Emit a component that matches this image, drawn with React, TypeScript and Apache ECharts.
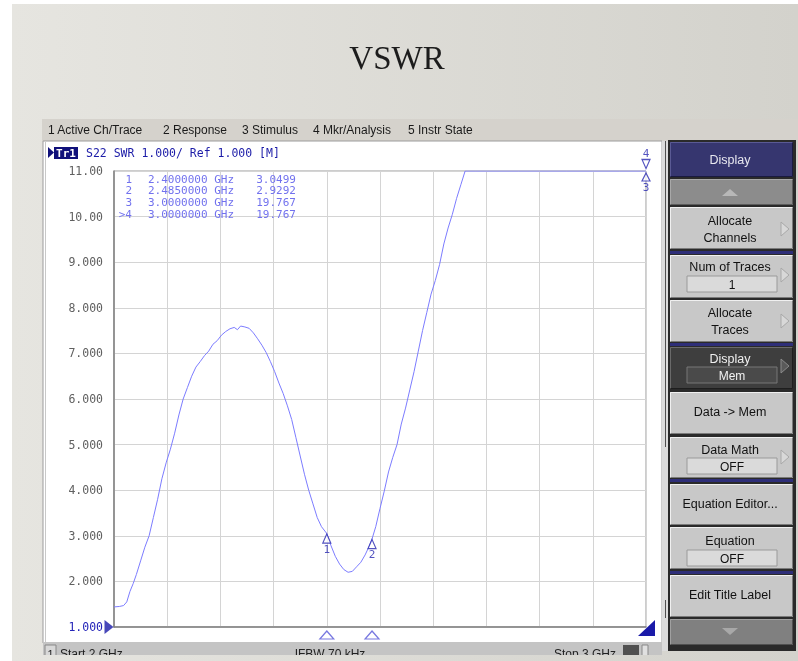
import React, { useEffect, useRef } from "react";
import * as echarts from "echarts";

// ---- data ----
const freqGHz = [
  2.0, 2.01, 2.018, 2.024, 2.03, 2.036, 2.042, 2.05, 2.058, 2.066, 2.074, 2.082, 2.09, 2.098, 2.106, 2.114,
  2.122, 2.13, 2.138, 2.146, 2.154, 2.162, 2.17, 2.178, 2.186, 2.194, 2.202, 2.21, 2.218, 2.226, 2.232,
  2.238, 2.246, 2.254, 2.262, 2.27, 2.278, 2.286, 2.294, 2.302, 2.31, 2.318, 2.326, 2.334, 2.342, 2.35,
  2.358, 2.366, 2.374, 2.382, 2.39, 2.4, 2.408, 2.416, 2.424, 2.432, 2.44, 2.448, 2.456, 2.464, 2.472,
  2.48, 2.485, 2.492, 2.5, 2.508, 2.516, 2.524, 2.532, 2.54, 2.548, 2.556, 2.564, 2.572, 2.58, 2.588,
  2.596, 2.604, 2.612, 2.62, 2.628, 2.636, 2.644, 2.652, 2.66, 2.68, 2.72, 2.76, 2.8, 2.85, 2.9, 2.95, 3.0,
];
const swr = [
  1.44, 1.45, 1.47, 1.55, 1.78, 1.95, 2.15, 2.45, 2.75, 3.0, 3.4, 3.8, 4.25, 4.6, 4.9, 5.25,
  5.65, 6.0, 6.25, 6.5, 6.7, 6.82, 6.95, 7.05, 7.2, 7.28, 7.4, 7.48, 7.54, 7.57, 7.52,
  7.6, 7.58, 7.55, 7.45, 7.32, 7.18, 7.02, 6.82, 6.6, 6.35, 6.12, 5.85, 5.55, 5.15, 4.75,
  4.35, 4.0, 3.7, 3.4, 3.2, 3.05, 2.78, 2.55, 2.38, 2.26, 2.2, 2.22, 2.32, 2.42, 2.58,
  2.78, 2.93, 3.2, 3.6, 3.98, 4.4, 4.72, 5.0, 5.45, 5.8, 6.2, 6.6, 7.05, 7.5, 7.9,
  8.3, 8.6, 8.95, 9.4, 9.75, 10.05, 10.4, 10.7, 11.0, 12.0, 13.5, 15.0, 16.2, 17.5, 18.5, 19.2, 19.767,
];
const markerIds = ["1", "2", "3", ">4"];
const markerFreq = [2.4, 2.485, 3.0, 3.0];
const markerSwr = [3.0499, 2.9292, 19.767, 19.767];
const startGHz = 2;
const stopGHz = 3;
const yMin = 1;
const yMax = 11;
const yDiv = 1;
const menuItems = ["1 Active Ch/Trace", "2 Response", "3 Stimulus", "4 Mkr/Analysis", "5 Instr State"];
const traceHeader = "S22 SWR 1.000/ Ref 1.000 [M]";
const statusTexts = ["Start 2 GHz", "IFBW 70 kHz", "Stop 3 GHz"];

// ---- layout ----
const menuX = [48, 163, 242, 313, 408];
const SANS = "'Liberation Sans', Arial, sans-serif";
const MONO = "'DejaVu Sans Mono', 'Liberation Mono', monospace";

function txt(x: number, y: number, text: string, font: string, fill: string, align = "left", z = 1, lineHeight?: number) {
  const style: any = { text, font, fill, textAlign: align, textVerticalAlign: "middle" };
  if (lineHeight) style.lineHeight = lineHeight;
  return { type: "text", x, y, z, style };
}
function bevel(x: number, y: number, w: number, h: number, fill: string, light: string, dark: string) {
  return [
    { type: "rect", z: -2, shape: { x, y, width: w, height: h }, style: { fill } },
    { type: "polyline", z: -1, shape: { points: [[x + 0.5, y + h - 0.5], [x + 0.5, y + 0.5], [x + w - 0.5, y + 0.5]] }, style: { stroke: light, lineWidth: 1, fill: null } },
    { type: "polyline", z: -1, shape: { points: [[x + 0.5, y + h - 0.5], [x + w - 0.5, y + h - 0.5], [x + w - 0.5, y + 0.5]] }, style: { stroke: dark, lineWidth: 1, fill: null } },
  ];
}
function arrowRight(y: number, dark = false) {
  return {
    type: "polygon", z: 0, shape: { points: [[781, y - 7], [789, y], [781, y + 7]] },
    style: { fill: dark ? "#5a5a5a" : "#d8d8d8", stroke: dark ? "#8a8a8a" : "#a8a8a8", lineWidth: 1 },
  };
}
function valueBox(y: number, text: string, dark = false) {
  return [
    { type: "rect", z: -1, shape: { x: 687, y, width: 90, height: 16 }, style: { fill: dark ? "#4a4a4a" : "#dadada", stroke: dark ? "#777" : "#9a9a9a", lineWidth: 1 } },
    txt(732, y + 8.5, text, `12px ${SANS}`, dark ? "#f2f2f2" : "#111", "center"),
  ];
}

function buildGraphics() {
  const g: any[] = [];
  const slideGrad = new echarts.graphic.LinearGradient(0, 0, 1, 0, [
    { offset: 0, color: "#e6e5e0" },
    { offset: 1, color: "#d3d2cc" },
  ]);
  g.push({ type: "rect", z: -10, shape: { x: 0, y: 0, width: 798, height: 661 }, style: { fill: "#ffffff" } });
  g.push({ type: "rect", z: -9, shape: { x: 12, y: 4, width: 786, height: 657 }, style: { fill: slideGrad } });
  g.push(txt(397, 58, "VSWR", `33px 'Liberation Serif', serif`, "#1c1c1c", "center", -8));

  // menu bar
  g.push({ type: "rect", z: -8, shape: { x: 42, y: 119, width: 756, height: 22 }, style: { fill: "#d5d2cc" } });
  menuItems.forEach((m, i) => g.push(txt(menuX[i], 130, m, `12px ${SANS}`, "#1a1a1a", "left", -7)));

  // chart window
  g.push({ type: "rect", z: -8, shape: { x: 43, y: 141, width: 619, height: 502 }, style: { fill: "#ffffff", stroke: "#9c9c9c", lineWidth: 1 } });
  g.push({ type: "line", z: -7, shape: { x1: 45.5, y1: 142, x2: 45.5, y2: 642 }, style: { stroke: "#c8c8c8", lineWidth: 1 } });

  // header
  g.push({ type: "polygon", z: 1, shape: { points: [[48, 147], [54, 152.5], [48, 158]] }, style: { fill: "#10107a" } });
  g.push({ type: "rect", z: 1, shape: { x: 54, y: 147, width: 24, height: 12 }, style: { fill: "#10107a" } });
  g.push(txt(66, 153, "Tr1", `bold 11px ${MONO}`, "#ffffff", "center", 2));
  g.push(txt(86, 153, traceHeader, `11.5px ${MONO}`, "#1c1ca8", "left", 2));

  // marker table
  markerIds.forEach((id, i) => {
    const y = 179 + i * 11.7;
    const f = `11px ${MONO}`;
    g.push(txt(132, y, id, f, "#7272ee", "right", 5, 10));
    g.push(txt(148, y, `${markerFreq[i].toFixed(7)} GHz`, f, "#7272ee", "left", 5, 10));
    g.push(txt(296, y, markerSwr[i].toPrecision(5), f, "#7272ee", "right", 5, 10));
  });

  // bottom-right corner marker
  g.push({ type: "polygon", z: 5, shape: { points: [[655, 620], [655, 636], [638, 636]] }, style: { fill: "#1a1aa8" } });

  // status bar
  g.push({ type: "rect", z: -6, shape: { x: 43, y: 642, width: 619, height: 19 }, style: { fill: "#c4c4c4" } });
  g.push({ type: "rect", z: -5, shape: { x: 45, y: 645, width: 11, height: 14 }, style: { fill: "#d8d8d8", stroke: "#888", lineWidth: 1 } });
  g.push(txt(50.5, 654, "1", `11px ${SANS}`, "#222", "center", -4));
  g.push(txt(60, 654, statusTexts[0], `12px ${SANS}`, "#222", "left", -4));
  g.push(txt(330, 654, statusTexts[1], `12px ${SANS}`, "#222", "center", -4));
  g.push(txt(616, 654, statusTexts[2], `12px ${SANS}`, "#222", "right", -4));
  g.push({ type: "rect", z: -4, shape: { x: 623, y: 645, width: 16, height: 12 }, style: { fill: "#505050" } });
  g.push({ type: "rect", z: -4, shape: { x: 642, y: 645, width: 6, height: 12 }, style: { fill: "#e0e0e0", stroke: "#888" } });

  // scrollbar strip + softkey panel
  g.push({ type: "rect", z: -6, shape: { x: 662, y: 141, width: 7, height: 510 }, style: { fill: "#dcdcdc" } });
  g.push({ type: "line", z: -5, shape: { x1: 665.5, y1: 141, x2: 665.5, y2: 447 }, style: { stroke: "#505050", lineWidth: 1 } });
  g.push({ type: "line", z: -5, shape: { x1: 665.5, y1: 600, x2: 665.5, y2: 618 }, style: { stroke: "#505050", lineWidth: 1 } });
  g.push({ type: "rect", z: -6, shape: { x: 668, y: 140, width: 128, height: 511 }, style: { fill: "#2a2a2a" } });

  const bx = 670, bw = 123;
  // Display (title)
  g.push(...bevel(bx, 142, bw, 35, "#36366f", "#5a5a94", "#1a1a40"));
  g.push(txt(730, 160, "Display", `12.5px ${SANS}`, "#e8e8f0", "center"));
  // up arrow
  g.push(...bevel(bx, 179, bw, 26, "#8c8c8c", "#a8a8a8", "#5c5c5c"));
  g.push({ type: "polygon", z: 0, shape: { points: [[722, 196], [738, 196], [730, 189]] }, style: { fill: "#b8b8b8" } });
  // Allocate Channels
  g.push(...bevel(bx, 207, bw, 42, "#c8c8c8", "#f0f0f0", "#7a7a7a"));
  g.push(txt(730, 221, "Allocate", `12.5px ${SANS}`, "#111", "center"));
  g.push(txt(730, 238, "Channels", `12.5px ${SANS}`, "#111", "center"));
  g.push(arrowRight(229));
  g.push({ type: "rect", z: -1, shape: { x: bx, y: 251, width: bw, height: 3 }, style: { fill: "#2e2e78" } });
  // Num of Traces
  g.push(...bevel(bx, 255, bw, 43, "#c8c8c8", "#f0f0f0", "#7a7a7a"));
  g.push(txt(730, 267, "Num of Traces", `12.5px ${SANS}`, "#111", "center"));
  g.push(...valueBox(276, "1"));
  g.push(arrowRight(275));
  // Allocate Traces
  g.push(...bevel(bx, 300, bw, 42, "#c8c8c8", "#f0f0f0", "#7a7a7a"));
  g.push(txt(730, 313, "Allocate", `12.5px ${SANS}`, "#111", "center"));
  g.push(txt(730, 330, "Traces", `12.5px ${SANS}`, "#111", "center"));
  g.push(arrowRight(321));
  g.push({ type: "rect", z: -1, shape: { x: bx, y: 343, width: bw, height: 3 }, style: { fill: "#2e2e78" } });
  // Display / Mem (selected)
  g.push(...bevel(bx, 347, bw, 42, "#3e3e3e", "#6a6a6a", "#1e1e1e"));
  g.push(txt(730, 359, "Display", `12.5px ${SANS}`, "#f0f0f0", "center"));
  g.push(...valueBox(367, "Mem", true));
  g.push(arrowRight(366, true));
  // Data -> Mem
  g.push(...bevel(bx, 392, bw, 42, "#c8c8c8", "#f0f0f0", "#7a7a7a"));
  g.push(txt(730, 412, "Data -> Mem", `12.5px ${SANS}`, "#111", "center"));
  // Data Math
  g.push(...bevel(bx, 437, bw, 41, "#c8c8c8", "#f0f0f0", "#7a7a7a"));
  g.push(txt(730, 450, "Data Math", `12.5px ${SANS}`, "#111", "center"));
  g.push(...valueBox(458, "OFF"));
  g.push(arrowRight(457));
  g.push({ type: "rect", z: -1, shape: { x: bx, y: 479, width: bw, height: 3 }, style: { fill: "#2e2e78" } });
  // Equation Editor...
  g.push(...bevel(bx, 484, bw, 41, "#c8c8c8", "#f0f0f0", "#7a7a7a"));
  g.push(txt(730, 504, "Equation Editor...", `12.5px ${SANS}`, "#111", "center"));
  // Equation
  g.push(...bevel(bx, 527, bw, 42, "#c8c8c8", "#f0f0f0", "#7a7a7a"));
  g.push(txt(730, 541, "Equation", `12.5px ${SANS}`, "#111", "center"));
  g.push(...valueBox(550, "OFF"));
  g.push({ type: "rect", z: -1, shape: { x: bx, y: 571, width: bw, height: 3 }, style: { fill: "#2e2e78" } });
  // Edit Title Label
  g.push(...bevel(bx, 575, bw, 42, "#c8c8c8", "#f0f0f0", "#7a7a7a"));
  g.push(txt(730, 595, "Edit Title Label", `12.5px ${SANS}`, "#111", "center"));
  // down arrow
  g.push(...bevel(bx, 619, bw, 26, "#808080", "#a0a0a0", "#505050"));
  g.push({ type: "polygon", z: 0, shape: { points: [[722, 628], [738, 628], [730, 635]] }, style: { fill: "#a8a8a8" } });

  // bottom cover (screenshot cropped)
  g.push({ type: "rect", z: 200, shape: { x: 12, y: 655, width: 786, height: 6 }, style: { fill: slideGrad } });
  return g;
}

export default function App() {
  const ref = useRef<HTMLDivElement>(null);
  useEffect(() => {
    if (!ref.current) return;
    const chart = echarts.init(ref.current, undefined, { renderer: "svg" });
    const trace = freqGHz.map((f, i) => [f, Math.min(swr[i], yMax)]);
    const mk = markerFreq.map((f, i) => [f, Math.min(markerSwr[i], yMax)]);
    chart.setOption({
      animation: false,
      backgroundColor: "transparent",
      graphic: { elements: buildGraphics() },
      grid: {
        left: 114, top: 171, width: 532, height: 456,
        show: true, backgroundColor: "#ffffff", borderColor: "#9a9a9a", borderWidth: 1,
      },
      xAxis: {
        type: "value", min: startGHz, max: stopGHz, interval: 0.1,
        axisLine: { show: true, lineStyle: { color: "#808080", width: 1.5 } },
        axisTick: { show: false }, axisLabel: { show: false },
        splitLine: { show: true, lineStyle: { color: "#d4d4d4", width: 1 } },
      },
      yAxis: {
        type: "value", min: yMin, max: yMax, interval: yDiv,
        axisLine: { show: true, lineStyle: { color: "#808080", width: 1.5 } },
        axisTick: { show: false },
        splitLine: { show: true, lineStyle: { color: "#d4d4d4", width: 1 } },
        axisLabel: {
          margin: 11,
          fontFamily: MONO, fontSize: 11.5, color: "#606060",
          formatter: (v: number) => (v === yMin ? `{ref|${v.toFixed(3)}}` : v >= 10 ? v.toFixed(2) : v.toFixed(3)),
          rich: { ref: { color: "#2424b8", fontFamily: MONO, fontSize: 11.5 } },
        },
      },
      series: [
        {
          type: "line", data: trace, symbol: "none", z: 3,
          lineStyle: { color: "#7c7cff", width: 1 },
        },
        {
          type: "scatter", z: 6, clip: false,
          data: mk.slice(0, 2),
          symbol: "triangle", symbolSize: [8, 9], symbolOffset: [0, 5],
          itemStyle: { color: "rgba(255,255,255,0.9)", borderColor: "#2828b0", borderWidth: 1.2 },
          label: {
            show: true, position: "bottom", distance: 0, color: "#2828b0", fontFamily: MONO, fontSize: 11,
            formatter: (p: any) => markerIds[p.dataIndex],
          },
        },
        {
          type: "scatter", z: 6, clip: false,
          data: [mk[2]],
          symbol: "triangle", symbolSize: [8, 8], symbolOffset: [0, 6],
          itemStyle: { color: "rgba(255,255,255,0.9)", borderColor: "#2828b0", borderWidth: 1.2 },
          label: { show: true, position: "bottom", distance: 0, color: "#2828b0", fontFamily: MONO, fontSize: 11, formatter: () => "3" },
        },
        {
          type: "scatter", z: 6, clip: false,
          data: [mk[3]],
          symbol: "triangle", symbolRotate: 180, symbolSize: [8, 9], symbolOffset: [0, -7],
          itemStyle: { color: "rgba(255,255,255,0.9)", borderColor: "#2828b0", borderWidth: 1.2 },
          label: { show: true, position: "top", distance: 0, color: "#2828b0", fontFamily: MONO, fontSize: 11, formatter: () => "4" },
        },
        {
          type: "scatter", z: 6, clip: false,
          data: mk.slice(0, 2).map((p) => [p[0], yMin]),
          symbol: "triangle", symbolSize: [14, 8], symbolOffset: [0, 8],
          itemStyle: { color: "#ffffff", borderColor: "#5656d8", borderWidth: 1.2 },
        },
        {
          type: "scatter", z: 6, clip: false,
          data: [[startGHz, yMin]],
          symbol: "triangle", symbolRotate: -90, symbolSize: [14, 9], symbolOffset: [-5, 0],
          itemStyle: { color: "#1a1aa8" },
        },
      ],
    });
    return () => chart.dispose();
  }, []);
  return <div ref={ref} style={{ position: "fixed", left: 0, top: 0, width: 798, height: 661 }} />;
}
